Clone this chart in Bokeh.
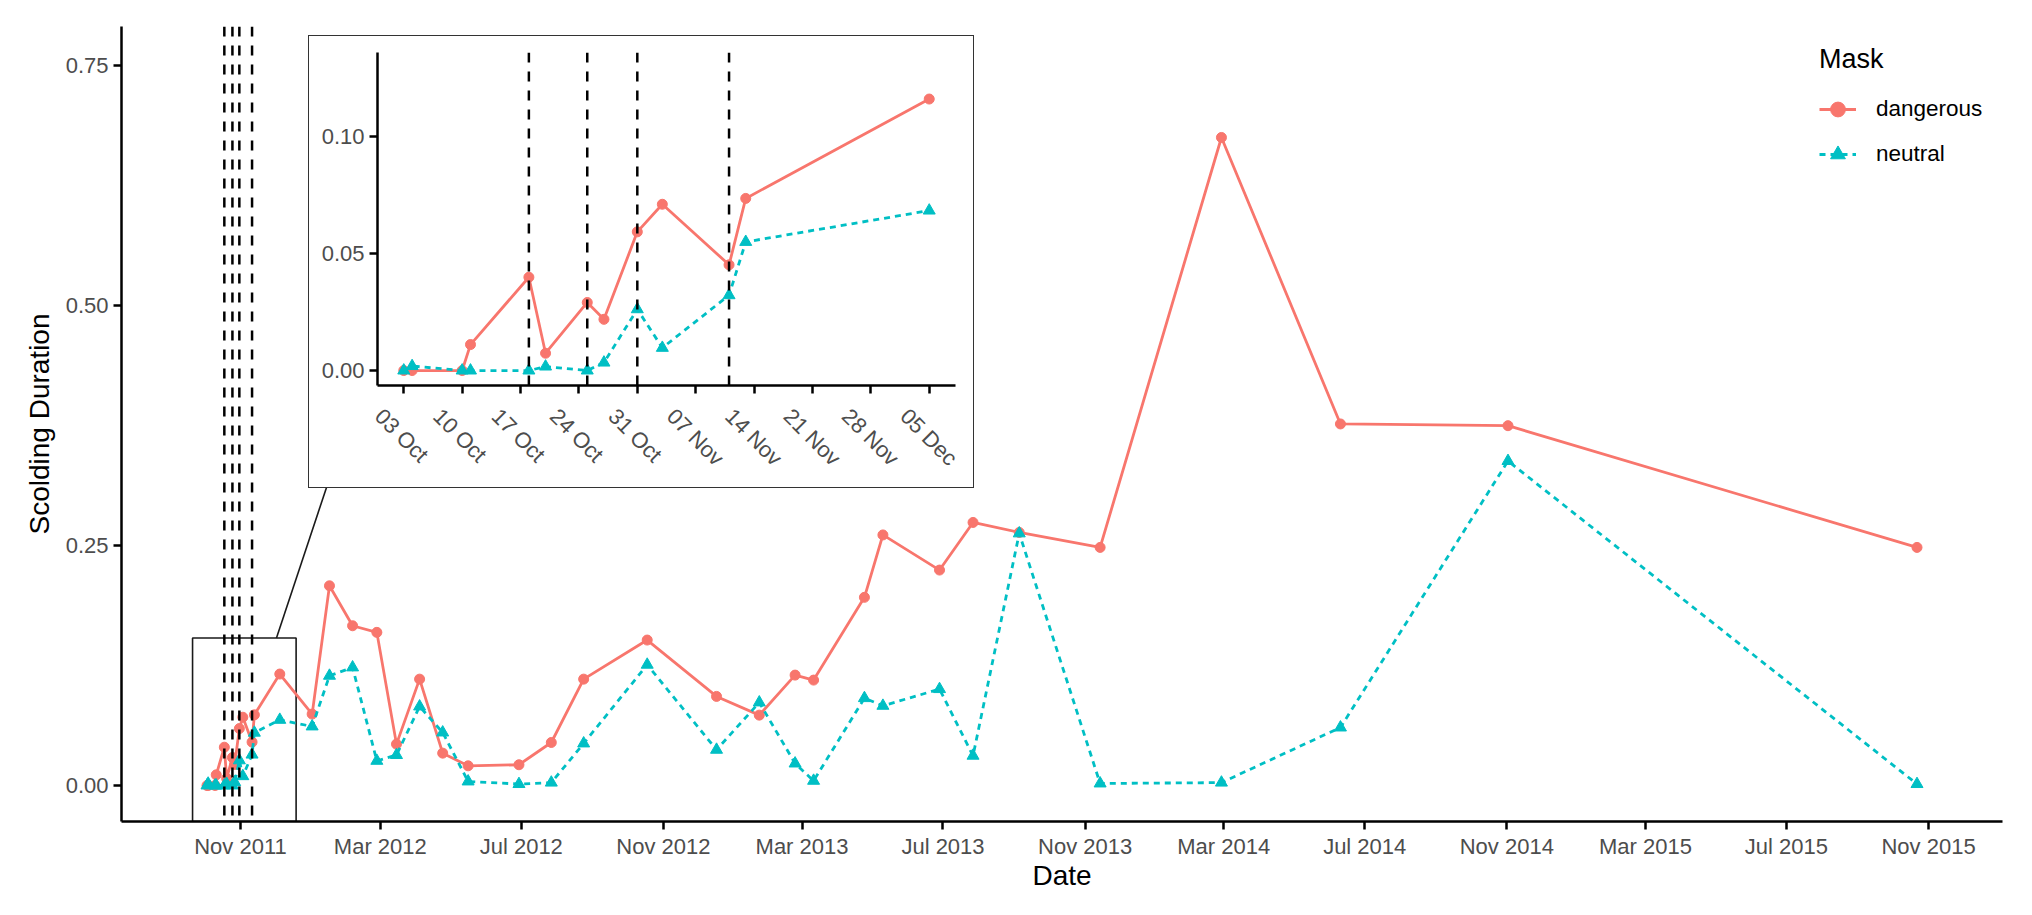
import math
from datetime import datetime
from bokeh.plotting import figure
from bokeh.models import (Range1d, FixedTicker, DatetimeTickFormatter, NumeralTickFormatter,
                          CustomJSTickFormatter, ColumnDataSource, Legend, LegendItem, Span,
                          GridBox, DatetimeAxis)
from bokeh.embed import file_html
from bokeh.resources import INLINE

# ---------------- data ----------------
dates = ["2011-10-03", "2011-10-04", "2011-10-10", "2011-10-11", "2011-10-18", "2011-10-20",
         "2011-10-25", "2011-10-27", "2011-10-31", "2011-11-03", "2011-11-11", "2011-11-13",
         "2011-12-05", "2012-01-02", "2012-01-17", "2012-02-06", "2012-02-27", "2012-03-15",
         "2012-04-04", "2012-04-24", "2012-05-16", "2012-06-29", "2012-07-27", "2012-08-24",
         "2012-10-18", "2012-12-17", "2013-01-23", "2013-02-23", "2013-03-11", "2013-04-24",
         "2013-05-10", "2013-06-28", "2013-07-27", "2013-09-05", "2013-11-14", "2014-02-27",
         "2014-06-10", "2014-11-02", "2015-10-22"]
dangerous = [0.000, 0.000, 0.000, 0.0111, 0.0399, 0.0074,
             0.0291, 0.0219, 0.0593, 0.0711, 0.0452, 0.0736,
             0.1161, 0.0744, 0.208, 0.1664, 0.1595, 0.0431,
             0.1108, 0.0337, 0.0205, 0.0216, 0.0448, 0.1108,
             0.1515, 0.0928, 0.0733, 0.115, 0.1098, 0.196,
             0.261, 0.2244, 0.274, 0.2636, 0.248, 0.675,
             0.3766, 0.3748, 0.248]
neutral = [0.000, 0.0019, 0.000, 0.000, 0.000, 0.0017,
           0.000, 0.0034, 0.0262, 0.0097, 0.0322, 0.055,
           0.0684, 0.0615, 0.1143, 0.123, 0.0257, 0.0317,
           0.0823, 0.0552, 0.0042, 0.0015, 0.003, 0.0438,
           0.1258, 0.0372, 0.0865, 0.0229, 0.0049, 0.091,
           0.083, 0.1004, 0.031, 0.2626, 0.0021, 0.003,
           0.0604, 0.338, 0.0015]
inset_end = "2011-12-05"                      # last date shown in the inset
event_dates = ["2011-10-18", "2011-10-25", "2011-10-31", "2011-11-11"]
main_x_ticks = ["2011-11-01", "2012-03-01", "2012-07-01", "2012-11-01", "2013-03-01",
                "2013-07-01", "2013-11-01", "2014-03-01", "2014-07-01", "2014-11-01",
                "2015-03-01", "2015-07-01", "2015-11-01"]
main_y_ticks = [0.0, 0.25, 0.50, 0.75]
inset_x_ticks = ["2011-10-03", "2011-10-10", "2011-10-17", "2011-10-24", "2011-10-31",
                 "2011-11-07", "2011-11-14", "2011-11-21", "2011-11-28", "2011-12-05"]
inset_y_ticks = [0.0, 0.05, 0.10]
main_y_limits = [-0.0375, 0.7906]
inset_y_limits = [-0.0064, 0.136]
zoom_box = {"left": "2011-09-20 12:00", "right": "2011-12-19 03:00", "bottom": -0.0375, "top": 0.1536}
connector = {"x": ["2011-12-02 03:00", "2012-01-15 16:00"], "y": [0.1536, 0.3149]}

RED = "#F8766D"
TEAL = "#00BFC4"
FONT = "Liberation Sans"


def ms(s):
    fmt = "%Y-%m-%d %H:%M" if " " in s else "%Y-%m-%d"
    return (datetime.strptime(s, fmt) - datetime(1970, 1, 1)).total_seconds() * 1000.0


x_ms = [ms(d) for d in dates]


def padded(lo, hi, f=0.05):
    d = (hi - lo) * f
    return lo - d, hi + d


def style_axes(fig, tick_size="22px"):
    for ax in fig.axis:
        ax.axis_line_width = 2.5
        ax.axis_line_color = "black"
        ax.major_tick_line_width = 2.5
        ax.major_tick_line_color = "black"
        ax.major_tick_out = 8
        ax.major_tick_in = 0
        ax.minor_tick_out = 0
        ax.minor_tick_in = 0
        ax.major_label_text_font = FONT
        ax.major_label_text_font_size = tick_size
        ax.major_label_text_color = "#4D4D4D"
        ax.axis_label_text_font = FONT
        ax.axis_label_text_font_size = "28px"
        ax.axis_label_text_font_style = "normal"
        ax.axis_label_text_color = "black"
    fig.xgrid.visible = False
    fig.ygrid.visible = False
    fig.outline_line_color = None


def add_series(fig, xs, ys_d, ys_n):
    src_d = ColumnDataSource(dict(x=xs, y=ys_d))
    src_n = ColumnDataSource(dict(x=xs, y=ys_n))
    ld = fig.line("x", "y", source=src_d, line_color=RED, line_width=2.8)
    sd = fig.scatter("x", "y", source=src_d, marker="circle", size=10, fill_color=RED, line_color=RED)
    ln = fig.line("x", "y", source=src_n, line_color=TEAL, line_width=2.8, line_dash="6 5")
    sn = fig.scatter("x", "y", source=src_n, marker="triangle", size=12, fill_color=TEAL, line_color=TEAL)
    return [ld, sd], [ln, sn]


# ---------------- main figure ----------------
x0, x1 = padded(min(x_ms), max(x_ms))
p = figure(frame_width=1881, frame_height=795, x_axis_type="datetime",
           x_range=Range1d(x0, x1), y_range=Range1d(*main_y_limits),
           min_border_left=121, min_border_right=22, min_border_top=26, min_border_bottom=86,
           output_backend="svg", toolbar_location=None,
           background_fill_color="white", border_fill_color="white")
p.xaxis.axis_label = "Date"
p.yaxis.axis_label = "Scolding Duration"
p.xaxis.ticker = FixedTicker(ticks=[ms(t) for t in main_x_ticks])
p.xaxis.formatter = DatetimeTickFormatter(days="%b %Y", months="%b %Y", years="%b %Y",
                                          hours="%b %Y", minutes="%b %Y")
p.yaxis.ticker = FixedTicker(ticks=main_y_ticks)
p.yaxis.formatter = NumeralTickFormatter(format="0.00")
style_axes(p)
p.xaxis.major_label_standoff = 4
p.xaxis.axis_label_standoff = -2
p.yaxis.major_label_standoff = 5
p.yaxis.axis_label_standoff = 8

for d in event_dates:
    p.add_layout(Span(location=ms(d), dimension="height", line_color="black",
                      line_width=2.5, line_dash="10 9"))

p.quad(left=[ms(zoom_box["left"])], right=[ms(zoom_box["right"])],
       bottom=[zoom_box["bottom"]], top=[zoom_box["top"]],
       fill_alpha=0, line_color="#1a1a1a", line_width=1.6)
p.line([ms(v) for v in connector["x"]], connector["y"], line_color="#1a1a1a", line_width=1.6)

rd, rn = add_series(p, x_ms, dangerous, neutral)

legend = Legend(items=[LegendItem(label="dangerous", renderers=rd),
                       LegendItem(label="neutral", renderers=rn)],
                location=(1698, 647), title="Mask")
legend.title_text_font = FONT
legend.title_text_font_size = "27px"
legend.title_text_font_style = "normal"
legend.title_text_color = "black"
legend.title_standoff = 14
legend.label_text_font = FONT
legend.label_text_font_size = "22.5px"
legend.label_text_color = "black"
legend.glyph_width = 37
legend.glyph_height = 40
legend.label_height = 40
legend.label_standoff = 20
legend.spacing = 5
legend.padding = 0
legend.margin = 0
legend.border_line_alpha = 0
legend.background_fill_color = "white"
legend.background_fill_alpha = 1
p.add_layout(legend)

# ---------------- inset figure ----------------
IN_FW = 578
n_in = sum(1 for d in dates if ms(d) <= ms(inset_end))
xi = x_ms[:n_in]
ix0, ix1 = padded(min(xi), max(xi))
inset = figure(frame_width=IN_FW, frame_height=333, x_axis_type="datetime",
               x_range=Range1d(ix0, ix1), y_range=Range1d(*inset_y_limits),
               min_border_left=68, min_border_right=18, min_border_top=16, min_border_bottom=102,
               output_backend="svg", toolbar_location=None,
               background_fill_color="white", border_fill_color="white",
               styles={"outline": "1.6px solid #333333"})
inset.xaxis.ticker = FixedTicker(ticks=[ms(t) for t in inset_x_ticks])
inset.xaxis.formatter = CustomJSTickFormatter(code="return ''")
inset.yaxis.ticker = FixedTicker(ticks=inset_y_ticks)
inset.yaxis.formatter = NumeralTickFormatter(format="0.00")
style_axes(inset)
inset.yaxis.major_label_standoff = 5
inset.xaxis.major_label_standoff = 0
inset.xaxis.major_label_text_font_size = "0px"

# rotated date labels (ggplot angle = -45): a label-only axis whose range is
# offset by 25 px so that each rotated label sits slightly left of its tick
shift = 25 * (ix1 - ix0) / IN_FW
inset.extra_x_ranges = {"labels": Range1d(ix0 + shift, ix1 + shift)}
lab_axis = DatetimeAxis(x_range_name="labels",
                        ticker=FixedTicker(ticks=[ms(t) for t in inset_x_ticks]),
                        formatter=DatetimeTickFormatter(days="%d %b", months="%d %b", years="%d %b",
                                                        hours="%d %b", minutes="%d %b"),
                        axis_line_color=None, major_tick_line_color=None,
                        minor_tick_line_color=None, major_tick_out=0, major_tick_in=0,
                        minor_tick_out=0, minor_tick_in=0,
                        major_label_orientation=-math.pi / 4, major_label_standoff=19,
                        major_label_text_font=FONT, major_label_text_font_size="22px",
                        major_label_text_color="#4D4D4D")
inset.add_layout(lab_axis, "below")

for d in event_dates:
    inset.add_layout(Span(location=ms(d), dimension="height", line_color="black",
                          line_width=2.5, line_dash="10 9"))
add_series(inset, xi, dangerous[:n_in], neutral[:n_in])

layout = GridBox(children=[(p, 0, 0, 3, 3), (inset, 1, 1, 1, 1)],
                 rows=["36px", "451px", "auto"], cols=["309px", "664px", "auto"], spacing=0)

open("out.html", "w").write(file_html(layout, INLINE))
